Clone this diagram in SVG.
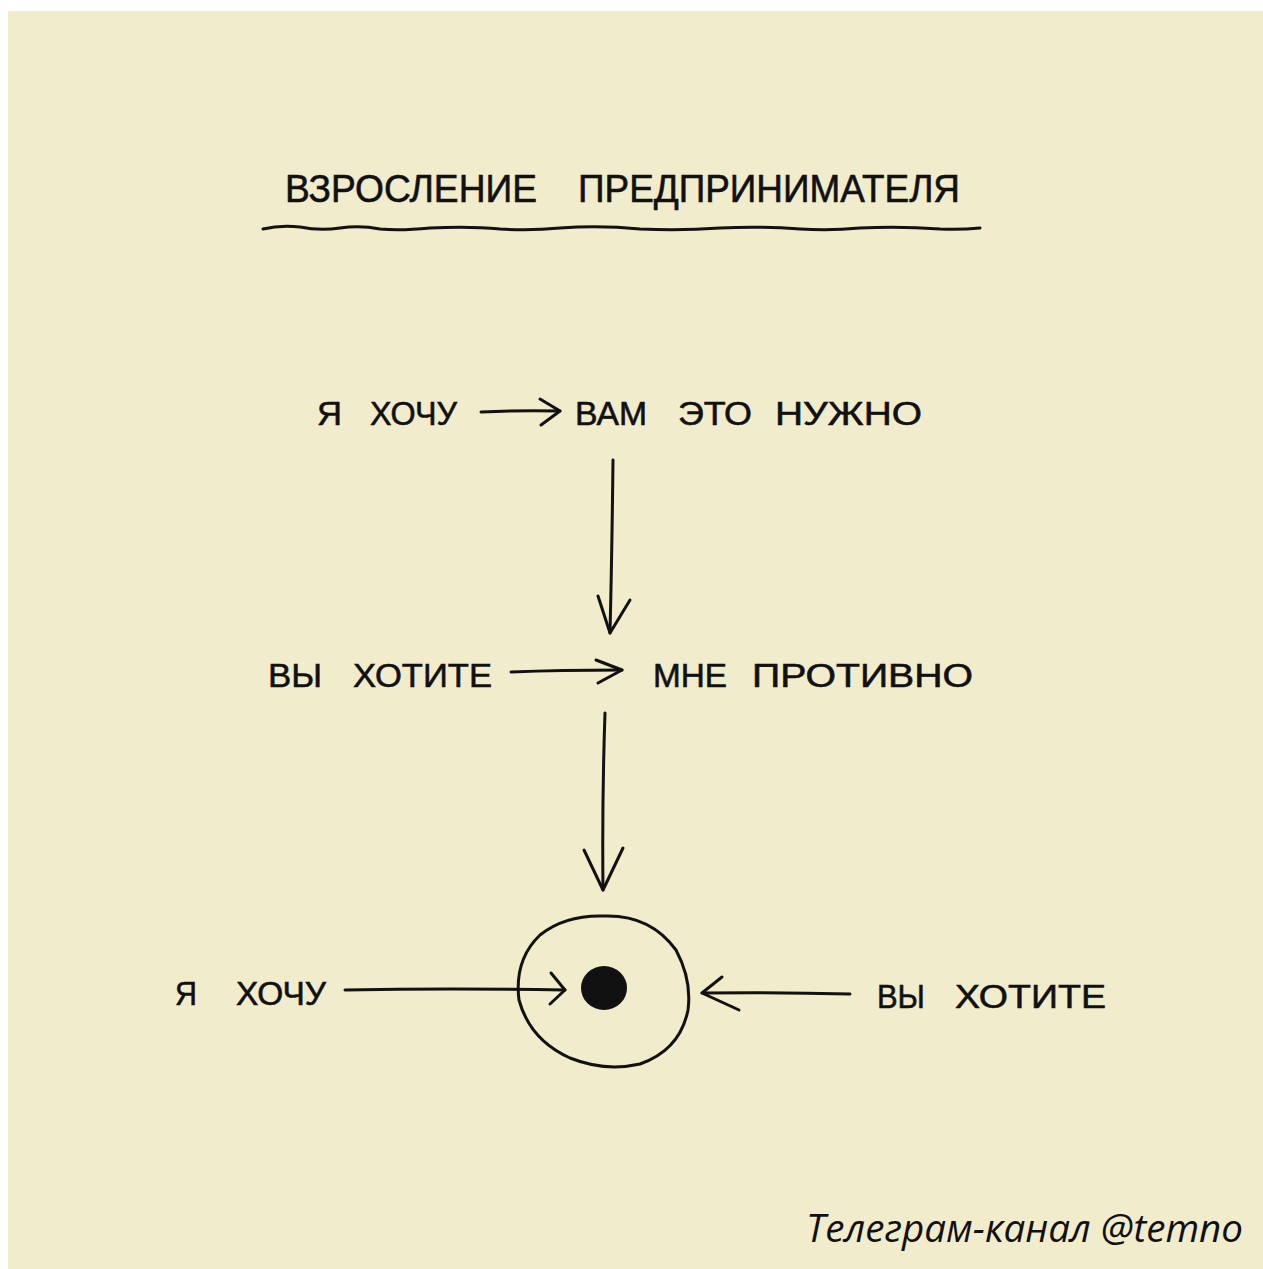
<svg xmlns="http://www.w3.org/2000/svg" width="1263" height="1269" viewBox="0 0 1263 1269">
<defs>
<style>
.hand{font-family:"Liberation Sans","DejaVu Sans",sans-serif;font-size:34px;fill:#111;stroke:#111;stroke-width:0.6px}
.title{font-size:38px}
.line{fill:none;stroke:#111;stroke-width:3;stroke-linecap:round;stroke-linejoin:round}
.foot{font-family:"Open Sans","Noto Sans",sans-serif;font-style:italic;font-size:38px;fill:#111}
</style>
</defs>
<rect x="0" y="0" width="1263" height="1269" fill="#ffffff"/>
<rect x="8" y="11" width="1255" height="1258" fill="#F1ECCC"/>

<g id="title">
<text class="hand title" x="285" y="202" textLength="252" lengthAdjust="spacingAndGlyphs">ВЗРОСЛЕНИЕ</text>
<text class="hand title" x="578" y="202" textLength="382" lengthAdjust="spacingAndGlyphs">ПРЕДПРИНИМАТЕЛЯ</text>
<path class="line" d="M263 229 Q280 225 300 227 Q320 231 340 228 Q360 225 380 229 Q400 231 430 228 Q470 226 500 229 Q530 231 560 228 Q600 225 640 229 Q680 231 720 228 Q760 226 800 229 Q830 231 860 228 Q900 226 940 229 Q960 230 980 228"/>
</g>

<g id="n1">
<text class="hand" x="317" y="425" textLength="25" lengthAdjust="spacingAndGlyphs">Я</text>
<text class="hand" x="370" y="425" textLength="87" lengthAdjust="spacingAndGlyphs">ХОЧУ</text>
</g>
<g id="n2">
<text class="hand" x="575" y="425" textLength="72" lengthAdjust="spacingAndGlyphs">ВАМ</text>
<text class="hand" x="678" y="425" textLength="74" lengthAdjust="spacingAndGlyphs">ЭТО</text>
<text class="hand" x="775" y="425" textLength="147" lengthAdjust="spacingAndGlyphs">НУЖНО</text>
</g>
<g id="n3">
<text class="hand" x="268" y="687" textLength="54" lengthAdjust="spacingAndGlyphs">ВЫ</text>
<text class="hand" x="353" y="687" textLength="139" lengthAdjust="spacingAndGlyphs">ХОТИТЕ</text>
</g>
<g id="n4">
<text class="hand" x="653" y="687" textLength="74" lengthAdjust="spacingAndGlyphs">МНЕ</text>
<text class="hand" x="752" y="687" textLength="221" lengthAdjust="spacingAndGlyphs">ПРОТИВНО</text>
</g>
<g id="n5">
<text class="hand" x="175" y="1005" textLength="22" lengthAdjust="spacingAndGlyphs">Я</text>
<text class="hand" x="236" y="1005" textLength="90" lengthAdjust="spacingAndGlyphs">ХОЧУ</text>
</g>
<g id="n6">
<text class="hand" x="877" y="1008" textLength="48" lengthAdjust="spacingAndGlyphs">ВЫ</text>
<text class="hand" x="955" y="1008" textLength="151" lengthAdjust="spacingAndGlyphs">ХОТИТЕ</text>
</g>
<g id="center">
<path class="line" d="M603 916 Q650 914 676 950 Q692 980 688 1010 Q680 1050 640 1064 Q605 1072 570 1058 Q530 1040 519 1000 Q514 960 540 935 Q565 915 603 916 Z"/>
<ellipse cx="604" cy="988" rx="23" ry="22" fill="#111"/>
</g>

<g id="connectors">
<path class="line" d="M481 412 Q520 410 560 411"/>
<path class="line" d="M540 399 L560 411 L541 425"/>
<path class="line" d="M613 460 Q612 550 610 633"/>
<path class="line" d="M598 596 L610 633 L630 600"/>
<path class="line" d="M511 672 Q560 670 622 670"/>
<path class="line" d="M596 660 L622 670 L598 683"/>
<path class="line" d="M605 713 Q602 800 603 890"/>
<path class="line" d="M584 850 L603 890 L623 848"/>
<path class="line" d="M345 990 Q450 988 565 990"/>
<path class="line" d="M551 973 L565 990 L550 1004"/>
<path class="line" d="M850 994 Q780 992 702 993"/>
<path class="line" d="M722 977 L702 993 L739 1010"/>
</g>

<g id="footer"><text class="foot" x="806" y="1242" textLength="437" lengthAdjust="spacingAndGlyphs">Телеграм-канал @temno</text></g>
</svg>
